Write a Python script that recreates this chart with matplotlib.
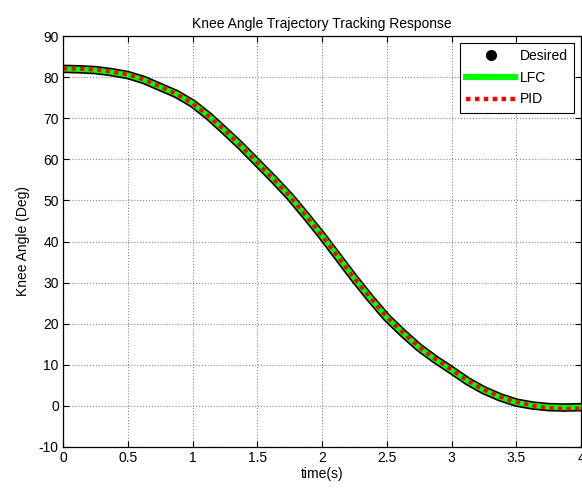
import matplotlib
matplotlib.use("Agg")
import matplotlib.pyplot as plt
from matplotlib.lines import Line2D

plt.rcParams["font.family"] = ["Liberation Sans", "DejaVu Sans"]
plt.rcParams["font.size"] = 10
plt.rcParams["axes.unicode_minus"] = False

# values
time_s = [0.0, 0.125, 0.25, 0.375, 0.5, 0.625, 0.75, 0.875, 1.0,
          1.125, 1.25, 1.375, 1.5, 1.625, 1.75, 1.875, 2.0,
          2.125, 2.25, 2.375, 2.5, 2.625, 2.75, 2.875, 3.0,
          3.125, 3.25, 3.375, 3.5, 3.625, 3.75, 3.875, 4.0]
desired = [82.0, 81.9, 81.7, 81.2, 80.5, 79.3, 77.6, 75.9, 73.6,
           70.5, 66.9, 63.2, 59.2, 55.2, 51.0, 46.3, 41.4,
           36.2, 31.0, 26.1, 21.5, 17.7, 14.2, 11.3, 8.7,
           6.0, 3.8, 2.1, 0.8, 0.1, -0.3, -0.4, -0.3]
lfc = [82.0, 81.9, 81.7, 81.2, 80.5, 79.3, 77.6, 75.9, 73.6,
       70.5, 66.9, 63.2, 59.2, 55.2, 51.0, 46.3, 41.4,
       36.2, 31.0, 26.1, 21.5, 17.7, 14.2, 11.3, 8.7,
       6.0, 3.8, 2.1, 0.8, 0.1, -0.3, -0.4, -0.3]
pid = [82.1, 82.0, 81.8, 81.3, 80.6, 79.4, 77.7, 75.9, 73.6,
       70.5, 67.0, 63.2, 59.2, 55.2, 51.0, 46.3, 41.4,
       36.2, 31.0, 26.2, 21.6, 17.8, 14.3, 11.4, 8.8,
       6.1, 3.9, 2.2, 0.9, 0.1, -0.5, -0.7, -0.6]

x_ticks = [0, 0.5, 1, 1.5, 2, 2.5, 3, 3.5, 4]
x_labels = ["0", "0.5", "1", "1.5", "2", "2.5", "3", "3.5", "4"]
y_ticks = list(range(-10, 91, 10))

fig = plt.figure(figsize=(5.82, 4.88), dpi=100)
ax = fig.add_axes([63 / 582, 41 / 488, 518 / 582, 411 / 488])

# desired drawn as a black band under the other two curves
ax.plot(time_s, desired, color="black", lw=6.2, solid_capstyle="round",
        solid_joinstyle="round")
ax.plot(time_s, lfc, color="#00ff00", lw=3.8, solid_joinstyle="round")
ax.plot(time_s, pid, color="red", lw=2.8, linestyle=(0, (1.1, 1.1)))

ax.set_xlim(0, 4)
ax.set_ylim(-10, 90)
ax.set_xticks(x_ticks)
ax.set_xticklabels(x_labels)
ax.set_yticks(y_ticks)
ax.tick_params(direction="in", top=True, right=True, length=4, width=0.8,
               labelsize=10, pad=3)
ax.grid(True, color="#888888", linestyle=":", linewidth=0.8)
for sp in ax.spines.values():
    sp.set_linewidth(0.9)

ax.set_xlabel("time(s)", labelpad=1)
ax.set_ylabel("Knee Angle (Deg)", labelpad=6)
ax.set_title("Knee Angle Trajectory Tracking Response", fontsize=10, pad=6)

handles = [
    Line2D([], [], color="black", marker="o", markersize=7, linestyle="none"),
    Line2D([], [], color="#00ff00", lw=4.5),
    Line2D([], [], color="red", lw=3.2, linestyle=(0, (1.0, 1.0))),
]
leg = ax.legend(handles, ["Desired", "LFC", "PID"], loc="upper right",
                fancybox=False, framealpha=1, edgecolor="black",
                handlelength=3.5, borderaxespad=0.5, labelspacing=0.55,
                handletextpad=0.35, fontsize=10, borderpad=0.45)
leg.get_frame().set_linewidth(0.8)

fig.savefig("out.png", dpi=100)
